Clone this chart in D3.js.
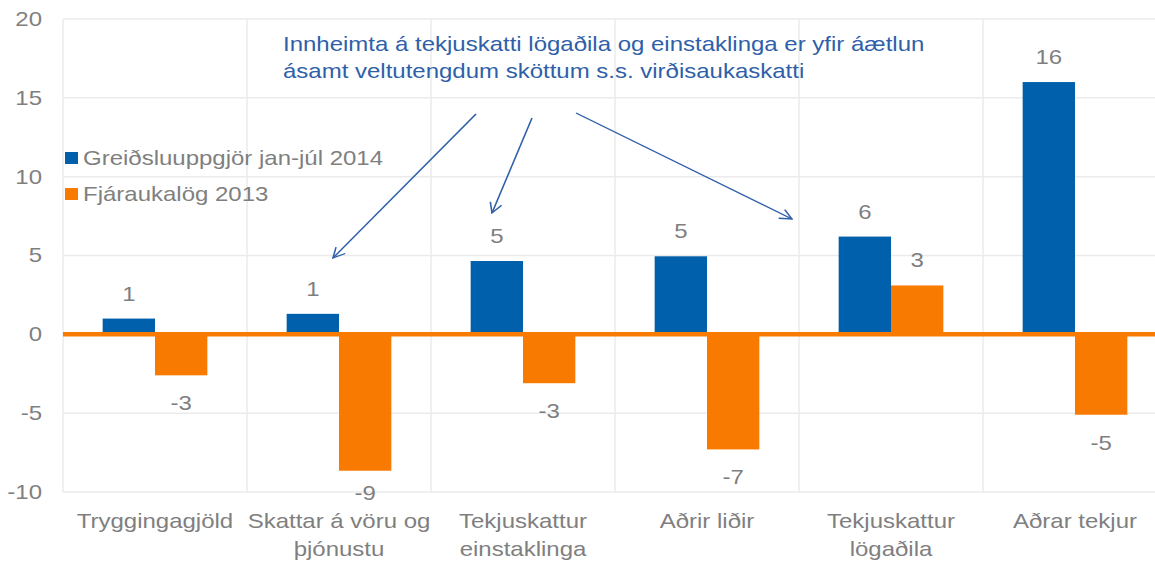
<!DOCTYPE html>
<html>
<head>
<meta charset="utf-8">
<script src="https://cdn.jsdelivr.net/npm/d3@7"></script>
<style>
  body { margin: 0; background: #fff; }
  svg text { font-family: "Liberation Sans", Arial, sans-serif; }
</style>
</head>
<body>
<svg id="chart"></svg>
<script>
(function () {

    // DATA
    var categories = [["Tryggingagjöld"], ["Skattar á vöru og", "þjónustu"], ["Tekjuskattur", "einstaklinga"],
                      ["Aðrir liðir"], ["Tekjuskattur", "lögaðila"], ["Aðrar tekjur"]];
    var seriesNames = ["Greiðsluuppgjör jan-júl 2014", "Fjáraukalög 2013"];
    var greidsluuppgjor = [1.0, 1.3, 4.65, 4.95, 6.2, 16.0];
    var fjaraukalog = [-2.6, -8.65, -3.1, -7.3, 3.1, -5.1];
    var yTicks = [-10, -5, 0, 5, 10, 15, 20];
    var note = ["Innheimta á tekjuskatti lögaðila og einstaklinga er yfir áætlun",
                "ásamt veltutengdum sköttum s.s. virðisaukaskatti"];

    var colors = ["#0060ac", "#f87a00"];
    var grey = "#7f7f7f";
    var noteColor = "#2f5fa9";

    // the original is stretched sideways, so draw narrow and stretch
    var S = 1.2;
    var W = 1155 / S, H = 561;
    var left = 63 / S, right = 1167 / S, top = 19, bottom = 492;

    var svg = d3.select("#chart")
        .attr("width", 1155).attr("height", 561)
        .attr("viewBox", "0 0 " + W + " " + H)
        .attr("preserveAspectRatio", "none");

    var x0 = d3.scaleBand().domain(d3.range(categories.length)).range([left, right]);
    var gw = x0.bandwidth() * 0.569;
    var x1 = d3.scaleBand().domain([0, 1]).range([0, gw]);
    var y = d3.scaleLinear().domain([-10, 20]).range([bottom, top]);

    //GRID
    svg.append("g").selectAll("line").data(yTicks).join("line")
        .attr("x1", left).attr("x2", W)
        .attr("y1", function (d) { return y(d); }).attr("y2", function (d) { return y(d); })
        .attr("stroke", "#ebebeb").attr("stroke-width", 1.5);
    svg.append("g").selectAll("line").data(d3.range(categories.length + 1)).join("line")
        .attr("x1", function (i) { return left + i * x0.bandwidth(); })
        .attr("x2", function (i) { return left + i * x0.bandwidth(); })
        .attr("y1", top).attr("y2", bottom)
        .attr("stroke", "#ebebeb").attr("stroke-width", 1.5 / S);

    //Y LABELS
    svg.append("g").selectAll("text").data(yTicks).join("text")
        .attr("x", 42 / S).attr("y", function (d) { return y(d) + 7; })
        .attr("text-anchor", "end").attr("font-size", 20).attr("fill", grey)
        .text(function (d) { return d; });

    //BARS
    var series = [greidsluuppgjor, fjaraukalog];
    series.forEach(function (vals, s) {
        var g = svg.append("g");
        g.selectAll("rect").data(vals).join("rect")
            .attr("x", function (d, i) { return x0(i) + (x0.bandwidth() - gw) / 2 + x1(s); })
            .attr("width", x1.bandwidth())
            .attr("y", function (d) { return y(Math.max(0, d)); })
            .attr("height", function (d) { return Math.abs(y(d) - y(0)); })
            .attr("fill", colors[s]);
        g.selectAll("text").data(vals).join("text")
            .attr("x", function (d, i) { return x0(i) + (x0.bandwidth() - gw) / 2 + x1(s) + x1.bandwidth() / 2; })
            .attr("y", function (d) {
                if (d >= 0) return y(d) - 25 + 7;
                return Math.min(y(d) + 28, 493) + 7;
            })
            .attr("text-anchor", "middle").attr("font-size", 20).attr("fill", grey)
            .text(function (d) { return Math.round(d); });
    });

    //ZERO LINE
    svg.append("line")
        .attr("x1", left).attr("x2", W)
        .attr("y1", y(0)).attr("y2", y(0))
        .attr("stroke", colors[1]).attr("stroke-width", 4.5);

    //CATEGORY LABELS
    var cat = svg.append("g").selectAll("text").data(categories).join("text")
        .attr("text-anchor", "middle").attr("font-size", 20).attr("fill", grey);
    cat.selectAll("tspan").data(function (d, i) { return d.map(function (t) { return [t, i]; }); }).join("tspan")
        .attr("x", function (d) { return x0(d[1]) + x0.bandwidth() / 2; })
        .attr("y", function (d, j) { return 528 + j * 28; })
        .text(function (d) { return d[0]; });

    //LEGEND
    var leg = svg.append("g");
    seriesNames.forEach(function (name, s) {
        var cy = 158 + s * 36;
        leg.append("rect").attr("x", 65 / S).attr("y", cy - 6)
            .attr("width", 13 / S).attr("height", 12).attr("fill", colors[s]);
        leg.append("text").attr("x", 83 / S).attr("y", cy + 7)
            .attr("font-size", 20).attr("fill", grey).text(name);
    });

    //NOTE
    svg.append("g").selectAll("text").data(note).join("text")
        .attr("x", 283 / S).attr("y", function (d, i) { return 51 + i * 27; })
        .attr("font-size", 20).attr("fill", noteColor)
        .text(function (d) { return d; });

    svg.append("defs").append("marker")
        .attr("id", "head").attr("viewBox", "0 0 12 12")
        .attr("refX", 11).attr("refY", 6)
        .attr("markerWidth", 12).attr("markerHeight", 12)
        .attr("markerUnits", "userSpaceOnUse")
        .attr("orient", "auto")
        .append("path").attr("d", "M1,1 L11,6 L1,11")
        .attr("fill", "none").attr("stroke", noteColor).attr("stroke-width", 1.3);

    var arrows = [[476, 114, 333, 258], [532, 118, 492, 213], [576, 113, 792, 219]];
    svg.append("g").selectAll("line").data(arrows).join("line")
        .attr("x1", function (d) { return d[0] / S; }).attr("y1", function (d) { return d[1]; })
        .attr("x2", function (d) { return d[2] / S; }).attr("y2", function (d) { return d[3]; })
        .attr("stroke", noteColor).attr("stroke-width", 1.3)
        .attr("marker-end", "url(#head)");

})();
</script>
</body>
</html>
